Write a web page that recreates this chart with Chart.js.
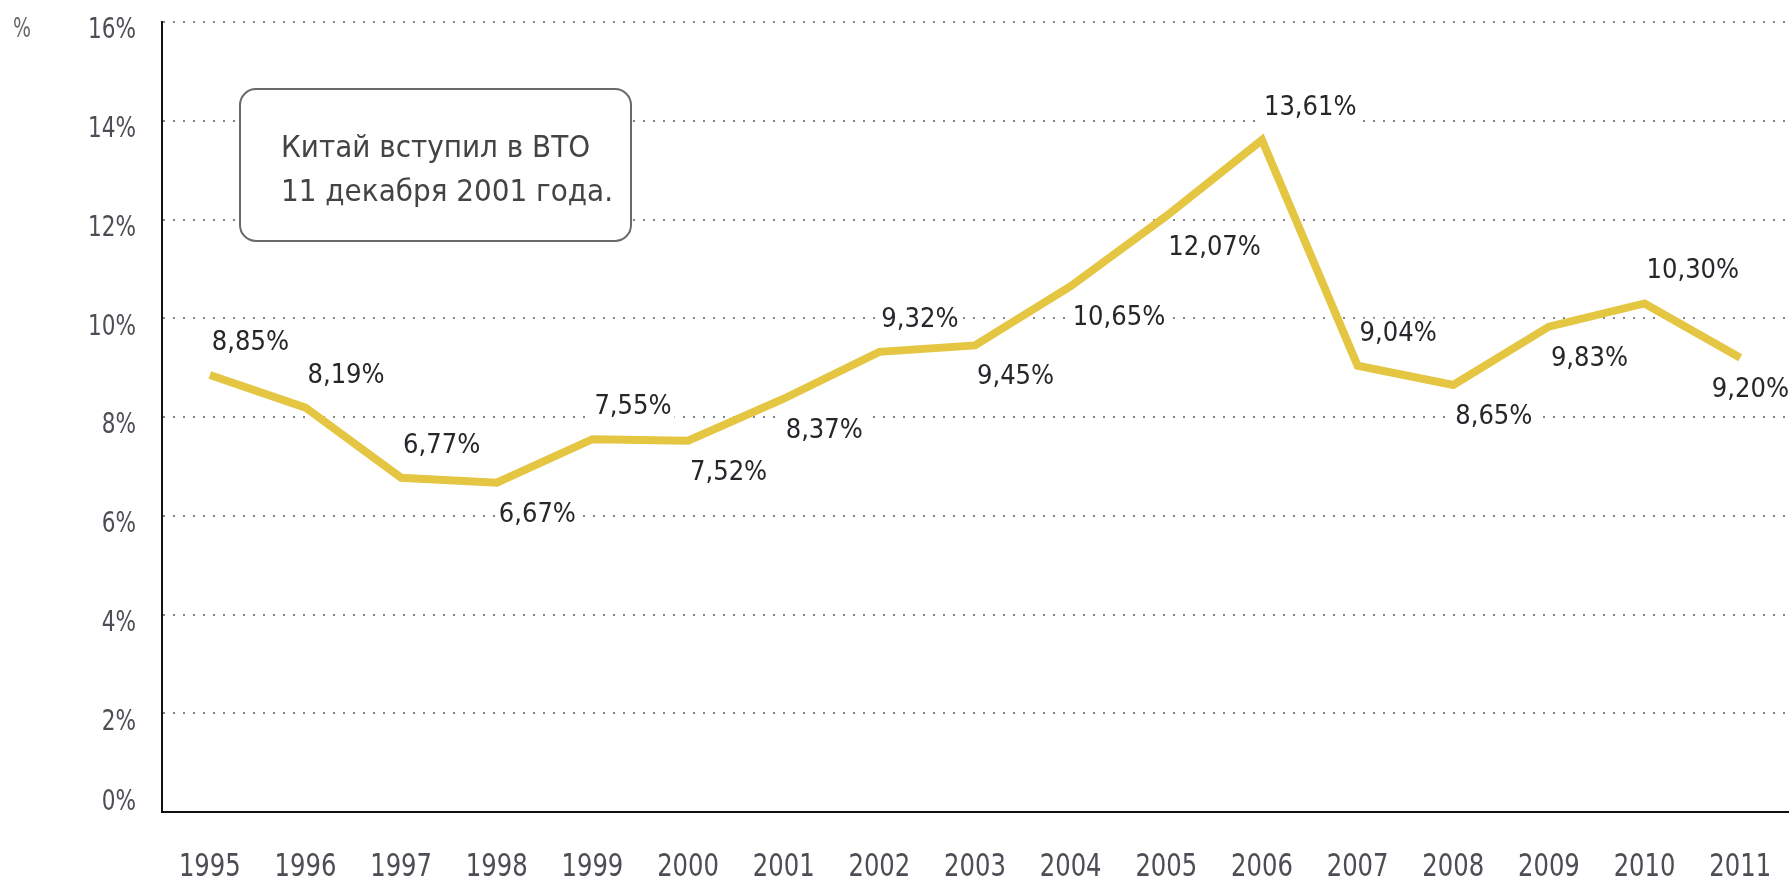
<!DOCTYPE html>
<html>
<head>
<meta charset="utf-8">
<script src="https://cdn.jsdelivr.net/npm/chart.js@4/dist/chart.umd.min.js"></script>
<style>
  html, body { margin: 0; padding: 0; background: #fff; }
  #wrap { width: 1791px; height: 884px; position: relative; }
</style>
</head>
<body>
<div id="wrap"><canvas id="chart"></canvas></div>
<script>
const FONT = '"DejaVu Sans Condensed", "DejaVu Sans", sans-serif';

// data
const years = ['1995', '1996', '1997', '1998', '1999', '2000', '2001', '2002', '2003',
  '2004', '2005', '2006', '2007', '2008', '2009', '2010', '2011'];
const shares = [8.85, 8.19, 6.77, 6.67, 7.55, 7.52, 8.37, 9.32, 9.45,
  10.65, 12.07, 13.61, 9.04, 8.65, 9.83, 10.30, 9.20];
const yTicks = [0, 2, 4, 6, 8, 10, 12, 14, 16];
const noteLines = ['Китай вступил в ВТО', '11 декабря 2001 года.'];
const unitLabel = '%';

// where each value label sits relative to its point
const labelSide = ['up', 'up', 'up', 'down', 'up', 'down', 'down', 'up', 'down',
  'down', 'down', 'up', 'up', 'down', 'down', 'up', 'down'];

const LINE_COLOR = 'rgb(228,198,66)';

// text in the source is a bit stretched vertically, so draw it scaled
function tallText(ctx, txt, x, y, sy, align) {
  ctx.save();
  ctx.translate(x, y);
  ctx.scale(1, sy);
  ctx.textAlign = align;
  ctx.textBaseline = 'middle';
  ctx.fillText(txt, 0, 0);
  ctx.restore();
}

// axis tick labels
const axisText = {
  id: 'axisText',
  afterDraw(chart) {
    const { ctx, chartArea } = chart;
    const xs = chart.scales.x, ys = chart.scales.y;
    ctx.save();
    ctx.fillStyle = '#4d4d55';
    ctx.font = '24px ' + FONT;
    yTicks.forEach(v => {
      const y = Math.min(ys.getPixelForValue(v) + 9, chartArea.bottom - 9);
      tallText(ctx, v + '%', chartArea.left - 26, y, 1.2, 'right');
    });
    ctx.font = '27px ' + FONT;
    years.forEach((yr, i) => {
      tallText(ctx, yr, xs.getPixelForTick(i), chartArea.bottom + 56, 1.15, 'center');
    });
    ctx.font = '21px ' + FONT;
    ctx.fillStyle = '#666';
    tallText(ctx, unitLabel, 13, 30, 1.3, 'left');
    ctx.restore();
  }
};

// value labels with a white patch behind them (they cut the dotted grid)
const valueLabels = {
  id: 'valueLabels',
  afterDatasetsDraw(chart) {
    const { ctx } = chart;
    const meta = chart.getDatasetMeta(0);
    ctx.save();
    ctx.font = '27px ' + FONT;
    ctx.textBaseline = 'middle';
    ctx.textAlign = 'left';
    meta.data.forEach((pt, i) => {
      const txt = shares[i].toFixed(2).replace('.', ',') + '%';
      const w = ctx.measureText(txt).width;
      let x = pt.x + 2;
      if (x + w > chart.width - 2) x = chart.width - 2 - w;
      const y = pt.y + (labelSide[i] === 'up' ? -32 : 32);
      ctx.fillStyle = '#fff';
      ctx.fillRect(x - 3, y - 15, w + 6, 30);
      ctx.fillStyle = '#26262b';
      ctx.fillText(txt, x, y);
    });
    ctx.restore();
  }
};

// rounded note box
const noteBox = {
  id: 'noteBox',
  beforeDatasetsDraw(chart) {
    const { ctx, chartArea } = chart;
    const x = chartArea.left + 78, y = chartArea.top + 67, w = 391, h = 152;
    ctx.save();
    ctx.beginPath();
    ctx.roundRect(x, y, w, h, 16);
    ctx.fillStyle = '#fff';
    ctx.fill();
    ctx.lineWidth = 2;
    ctx.strokeStyle = '#6a6a6a';
    ctx.stroke();
    ctx.fillStyle = '#444';
    ctx.font = '31px ' + FONT;
    ctx.textBaseline = 'middle';
    ctx.textAlign = 'left';
    ctx.fillText(noteLines[0], x + 41, y + 60);
    ctx.fillText(noteLines[1], x + 41, y + 104);
    ctx.restore();
  }
};

const ctx = document.getElementById('chart').getContext('2d');

const chart = new Chart(ctx, {
  type: 'line',
  data: {
    labels: years,
    datasets: [{
      data: shares,
      borderColor: LINE_COLOR,
      borderWidth: 8,
      pointRadius: 0,
      tension: 0,
      fill: false
    }]
  },
  options: {
    responsive: true,
    maintainAspectRatio: false,
    animation: false,
    layout: { padding: { top: 22, right: 3, left: 0, bottom: 0 } },
    plugins: {
      legend: { display: false },
      tooltip: { enabled: false }
    },
    scales: {
      x: {
        offset: true,
        grid: { display: false, drawTicks: false },
        border: { display: true, color: '#111', width: 2 },
        ticks: { display: false, autoSkip: false },
        afterFit(scale) { scale.height = 72; }
      },
      y: {
        min: 0,
        max: 16,
        afterBuildTicks(scale) { scale.ticks = yTicks.map(v => ({ value: v })); },
        grid: {
          drawTicks: false,
          lineWidth: 2,
          color: c => (c.tick && c.tick.value === 0) ? 'rgba(0,0,0,0)' : '#858585'
        },
        border: { display: true, color: '#111', width: 2, dash: [2, 8] },
        ticks: { display: false },
        afterFit(scale) { scale.width = 162; }
      }
    }
  },
  plugins: [noteBox, valueLabels, axisText]
});
</script>
</body>
</html>
